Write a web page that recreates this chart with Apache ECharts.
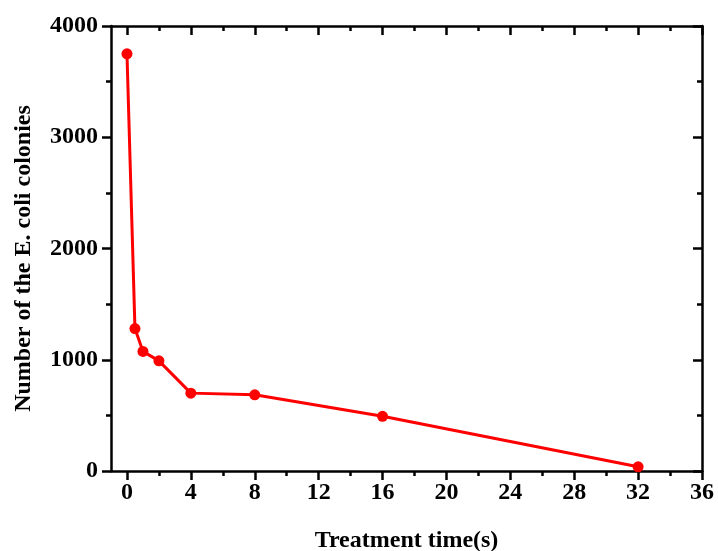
<!DOCTYPE html>
<html><head><meta charset="utf-8">
<script src="https://cdn.jsdelivr.net/npm/echarts@6/dist/echarts.min.js"></script>
<style>html,body{margin:0;padding:0;background:#fff}#c{width:718px;height:551px}</style>
</head><body><div id="c"></div>
<script>
const times = [0, 0.5, 1, 2, 4, 8, 16, 32];
const colonies = [3750, 1280, 1075, 990, 700, 685, 492, 38];
const xMajorTicks = [0, 4, 8, 12, 16, 20, 24, 28, 32, 36];
const xMinorTicks = [2, 6, 10, 14, 18, 22, 26, 30, 34];
const xTitle = 'Treatment time(s)';
const yTitle = 'Number of the E. coli colonies';

const font = 'Liberation Serif, Times New Roman, serif';
const lineStyle = {color: '#000', width: 2.5};
function xAx(pos, ticks, len, inside, labels, showLine) {
  return {
    type: 'value', position: pos, min: -1, max: 36,
    axisLine: {show: showLine, onZero: false, lineStyle},
    axisTick: {show: true, inside, length: len, customValues: ticks, lineStyle: {color: '#000', width: 2.5}},
    axisLabel: {show: labels, customValues: ticks, fontFamily: font, fontWeight: 'bold', fontSize: 24, color: '#000', margin: 10},
    splitLine: {show: false}
  };
}
function yAx(pos, inside, labels) {
  return {
    type: 'value', position: pos, min: 0, max: 4000, interval: 1000,
    axisLine: {show: true, onZero: false, lineStyle},
    axisTick: {show: true, inside, length: 9, lineStyle: {color: '#000', width: 2.5}},
    minorTick: {show: true, splitNumber: 2, length: 5, lineStyle: {color: '#000', width: 2.5}},
    axisLabel: {show: labels, formatter: v => String(v), fontFamily: font, fontWeight: 'bold', fontSize: 24, color: '#000', margin: 13},
    splitLine: {show: false}, minorSplitLine: {show: false}
  };
}
const chart = echarts.init(document.getElementById('c'));
const xa0 = xAx('bottom', xMajorTicks, 9, false, true, true);
xa0.name = xTitle; xa0.nameLocation = 'middle'; xa0.nameGap = 58;
xa0.nameTextStyle = {fontFamily: font, fontWeight: 'bold', fontSize: 24, color: '#000'};
const ya0 = yAx('left', false, true);
ya0.name = yTitle; ya0.nameLocation = 'middle'; ya0.nameGap = 75;
ya0.nameTextStyle = {fontFamily: font, fontWeight: 'bold', fontSize: 24, color: '#000', padding: [0, 20, 0, 0]};
chart.setOption({
  animation: false,
  grid: {left: 111, right: 16, top: 26, bottom: 80, containLabel: false, outerBoundsMode: 'none'},
  xAxis: [
    xa0,
    xAx('bottom', xMinorTicks, 5, false, false, false),
    xAx('top', xMajorTicks, 9, true, false, true),
    xAx('top', xMinorTicks, 5, true, false, false)
  ],
  yAxis: [ya0, yAx('right', true, false)],
  series: [{
    type: 'line', xAxisIndex: 0, yAxisIndex: 0,
    data: times.map((t, i) => [t, colonies[i]]),
    symbol: 'circle', symbolSize: 11,
    lineStyle: {color: '#ff0000', width: 3},
    itemStyle: {color: '#ff0000'}
  }]
});
</script></body></html>
